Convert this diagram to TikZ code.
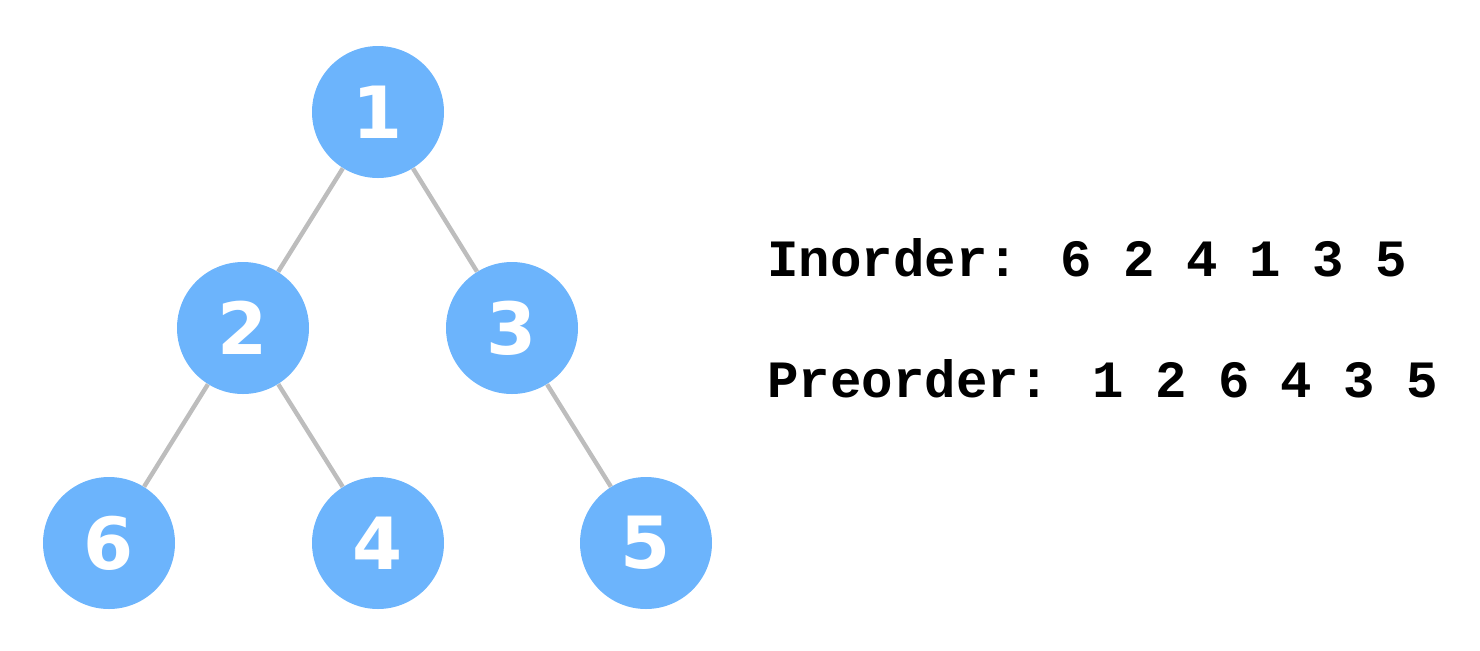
\documentclass[tikz,border=0pt]{standalone}
\usepackage{fontspec}
\newfontfamily\numfont{DejaVu Sans}
\newfontfamily\codefont{Liberation Mono}
\definecolor{nodeblue}{HTML}{6CB4FC}
\definecolor{edgegray}{HTML}{BDBDBD}
\tikzset{
  treenode/.style={circle, fill=nodeblue, minimum size=66pt, inner sep=0pt,
    text=white, font=\numfont\bfseries\fontsize{36}{36}\selectfont},
  treeedge/.style={draw=edgegray, line width=2.2pt},
  codetext/.style={anchor=base west, inner sep=0pt,
    font=\codefont\bfseries\fontsize{26.2}{26.2}\selectfont}
}
\begin{document}
\begin{tikzpicture}[x=0.5pt,y=-0.5pt]
\useasboundingbox (0,0) rectangle (1480,650);
\node[treenode] (n1) at (378,112) {1};
\node[treenode] (n2) at (243,328) {2};
\node[treenode] (n3) at (512,328) {3};
\node[treenode] (n6) at (109,543) {6};
\node[treenode] (n4) at (378,543) {4};
\node[treenode] (n5) at (646,543) {5};
\draw[treeedge] (n1) -- (n2);
\draw[treeedge] (n1) -- (n3);
\draw[treeedge] (n2) -- (n6);
\draw[treeedge] (n2) -- (n4);
\draw[treeedge] (n3) -- (n5);
\node[codetext] (inorder) at (767,276) {Inorder: 6 2 4 1 3 5};
\node[codetext] (preorder) at (767,397) {Preorder: 1 2 6 4 3 5};
\end{tikzpicture}
\end{document}
